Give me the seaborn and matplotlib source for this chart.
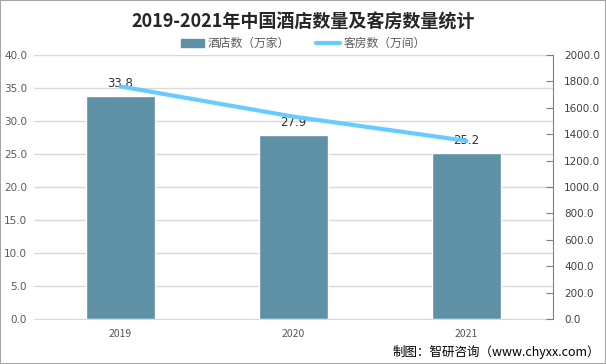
import numpy as np
import pandas as pd
import matplotlib.pyplot as plt
import seaborn as sns
from matplotlib.patches import Rectangle
from matplotlib.lines import Line2D

years = ["2019", "2020", "2021"]
hotels = [33.8, 27.9, 25.2]        # 酒店数（万家）
rooms = [1762, 1533, 1350]         # 客房数（万间）

sns.set_style("white")
plt.rcParams['font.family'] = ['Noto Sans CJK SC', 'DejaVu Sans']

df = pd.DataFrame({"year": years, "hotels": hotels, "rooms": rooms})
df["pos"] = np.arange(len(years))

fig = plt.figure(figsize=(6.06, 3.64), dpi=100)
ax = fig.add_axes([34 / 606, 45 / 364, 519 / 606, 264 / 364])

bar_color = "#5E90A6"
line_color = "#66CCFF"

sns.barplot(data=df, x="year", y="hotels", color=bar_color, width=0.4,
            saturation=1, ax=ax, zorder=2)
ax.set_xlim(-0.5, 2.5)
ax.set_ylim(0, 40)
ax.set_yticks(np.arange(0, 45, 5))
ax.set_yticklabels([f"{v:.1f}" for v in np.arange(0, 45, 5)],
                   family="DejaVu Sans")
ax.yaxis.grid(True, color="#D9D9D9", linewidth=1, zorder=0)
ax.set_axisbelow(True)
ax.set_xlabel("")
ax.set_ylabel("")
for s in ["left", "top", "right"]:
    ax.spines[s].set_visible(False)
ax.spines["bottom"].set_color("#D9D9D9")
ax.tick_params(axis="y", length=0, labelsize=7.5, labelcolor="#595959", pad=5)
ax.tick_params(axis="x", length=0, labelsize=7.5, labelcolor="#595959", pad=7)

for i, v in enumerate(hotels):
    ax.text(i, v + 0.9, f"{v}", ha="center", va="bottom", fontsize=8.5,
            color="#333333", family="DejaVu Sans", zorder=5)

ax2 = ax.twinx()
sns.lineplot(data=df, x="pos", y="rooms", color=line_color, linewidth=3,
             ax=ax2, zorder=3)
ax2.set_ylim(0, 2000)
ax2.set_yticks(np.arange(0, 2200, 200))
ax2.set_yticklabels([f"{v:.1f}" for v in np.arange(0, 2200, 200)],
                    family="DejaVu Sans")
ax2.set_xlim(-0.5, 2.5)
ax2.set_ylabel("")
ax2.set_xlabel("")
for s in ["left", "top", "bottom"]:
    ax2.spines[s].set_visible(False)
ax2.spines["right"].set_color("#7F7F7F")
ax2.tick_params(axis="y", direction="in", length=5, color="#7F7F7F",
                labelsize=7.5, labelcolor="#404040", pad=8)

fig.text(0.5, 0.94, "2019-2021年中国酒店数量及客房数量统计", ha="center",
         va="center", fontsize=13, fontweight="bold", color="#262626")

handles = [Rectangle((0, 0), 1, 1, color=bar_color),
           Line2D([0], [0], color=line_color, linewidth=3)]
fig.legend(handles, ["酒店数（万家）", "客房数（万间）"], loc="center",
           bbox_to_anchor=(0.5, 0.88), ncol=2, frameon=False, fontsize=8.5,
           handlelength=2.0, handletextpad=0.3, columnspacing=2.2,
           labelcolor="#595959")

fig.text(0.99, 0.032, "制图：智研咨询（www.chyxx.com）", ha="right",
         va="center", fontsize=9, color="#000000")

fig.patches.append(Rectangle((0, 0), 1, 1, transform=fig.transFigure,
                             fill=False, edgecolor="#A6A6A6", linewidth=1.5))

fig.savefig("out.png", dpi=100)
